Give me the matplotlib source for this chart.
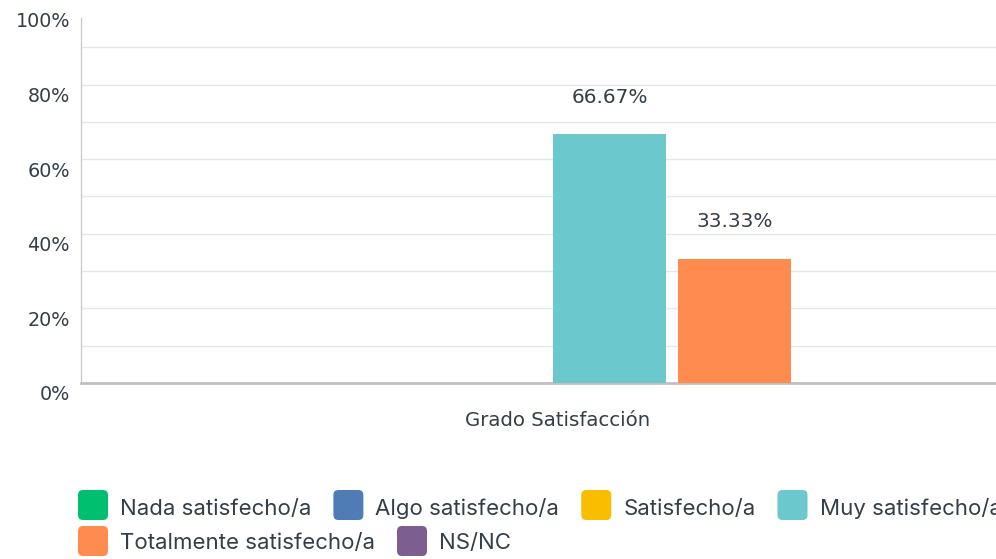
import matplotlib
matplotlib.use("Agg")
import matplotlib.pyplot as plt
import matplotlib.transforms as mtransforms
from matplotlib.patches import FancyBboxPatch

# data
category = "Grado Satisfacción"
series = ["Nada satisfecho/a", "Algo satisfecho/a", "Satisfecho/a",
          "Muy satisfecho/a", "Totalmente satisfecho/a", "NS/NC"]
values = [0, 0, 0, 66.67, 33.33, 0]
colors = ["#00BF6F", "#507CB6", "#F9BE00", "#6BC8CD", "#FF8B4F", "#7D5E90"]
yticks = [0, 20, 40, 60, 80, 100]
ytick_labels = ["0%", "20%", "40%", "60%", "80%", "100%"]

W, H = 996, 559
fig = plt.figure(figsize=(W / 100, H / 100), dpi=100)
# plot area runs past the right edge, like the original
ax = fig.add_axes([81 / W, (H - 383) / H, (1013 - 81) / W, 373 / H])

txt = "#333E48"
step, width = 0.1341, 0.1212
n = len(series)
for i, (name, v, c) in enumerate(zip(series, values, colors)):
    x = (i - (n - 1) / 2) * step
    ax.bar(x, v, width=width, color=c, zorder=3)
    if v > 0:
        ax.annotate(f"{v:.2f}%", (x, v), xytext=(0, 26.5), textcoords="offset points",
                    ha="center", va="center", fontsize=14.5, color=txt,
                    family="DejaVu Sans")

ax.set_xlim(-0.5, 0.5)
ax.set_ylim(0, 100)
for g in range(10, 100, 10):
    ax.axhline(g, color="#E6E6E6", lw=1, zorder=1)

ax.set_yticks(yticks)
ax.set_yticklabels(ytick_labels, fontsize=13.8, color=txt, family="DejaVu Sans")
ax.tick_params(axis="y", length=0, pad=8)
down = mtransforms.ScaledTranslation(0, -10 / 100, fig.dpi_scale_trans)
for lab in ax.get_yticklabels():
    lab.set_transform(lab.get_transform() + down)

ax.set_xticks([0])
ax.set_xticklabels([category], fontsize=14.2, color=txt, family="DejaVu Sans")
ax.tick_params(axis="x", length=0, pad=20)
right = mtransforms.ScaledTranslation(11 / 100, 0, fig.dpi_scale_trans)
for lab in ax.get_xticklabels():
    lab.set_transform(lab.get_transform() + right)

for s in ["top", "right"]:
    ax.spines[s].set_visible(False)
ax.spines["left"].set_color("#CCCCCC")
ax.spines["left"].set_linewidth(1)
ax.spines["left"].set_bounds(0, 97.8)
ax.spines["bottom"].set_color("#C0C0C0")
ax.spines["bottom"].set_linewidth(2)

# legend drawn as a flow layout (last item runs off the edge, as in the original)
fig.canvas.draw()
renderer = fig.canvas.get_renderer()
rows = [series[:4], series[4:]]
row_y = [505, 541]
base_y = [515, 549]
idx = 0
for r, items in enumerate(rows):
    x = 78
    for name in items:
        c = colors[idx]
        idx += 1
        yc = row_y[r]
        box = FancyBboxPatch((x / W, (H - yc - 15) / H), 30 / W, 30 / H,
                             boxstyle="round,pad=0,rounding_size=0.005",
                             transform=fig.transFigure, facecolor=c, edgecolor="none",
                             mutation_aspect=W / H)
        fig.patches.append(box)
        t = fig.text((x + 42) / W, (H - base_y[r]) / H, name, fontsize=16, color="#333E48",
                     va="baseline", ha="left", family=["Inter", "Liberation Sans"])
        bb = t.get_window_extent(renderer)
        x = x + 42 + bb.width + 22

fig.savefig("out.png", dpi=100)
